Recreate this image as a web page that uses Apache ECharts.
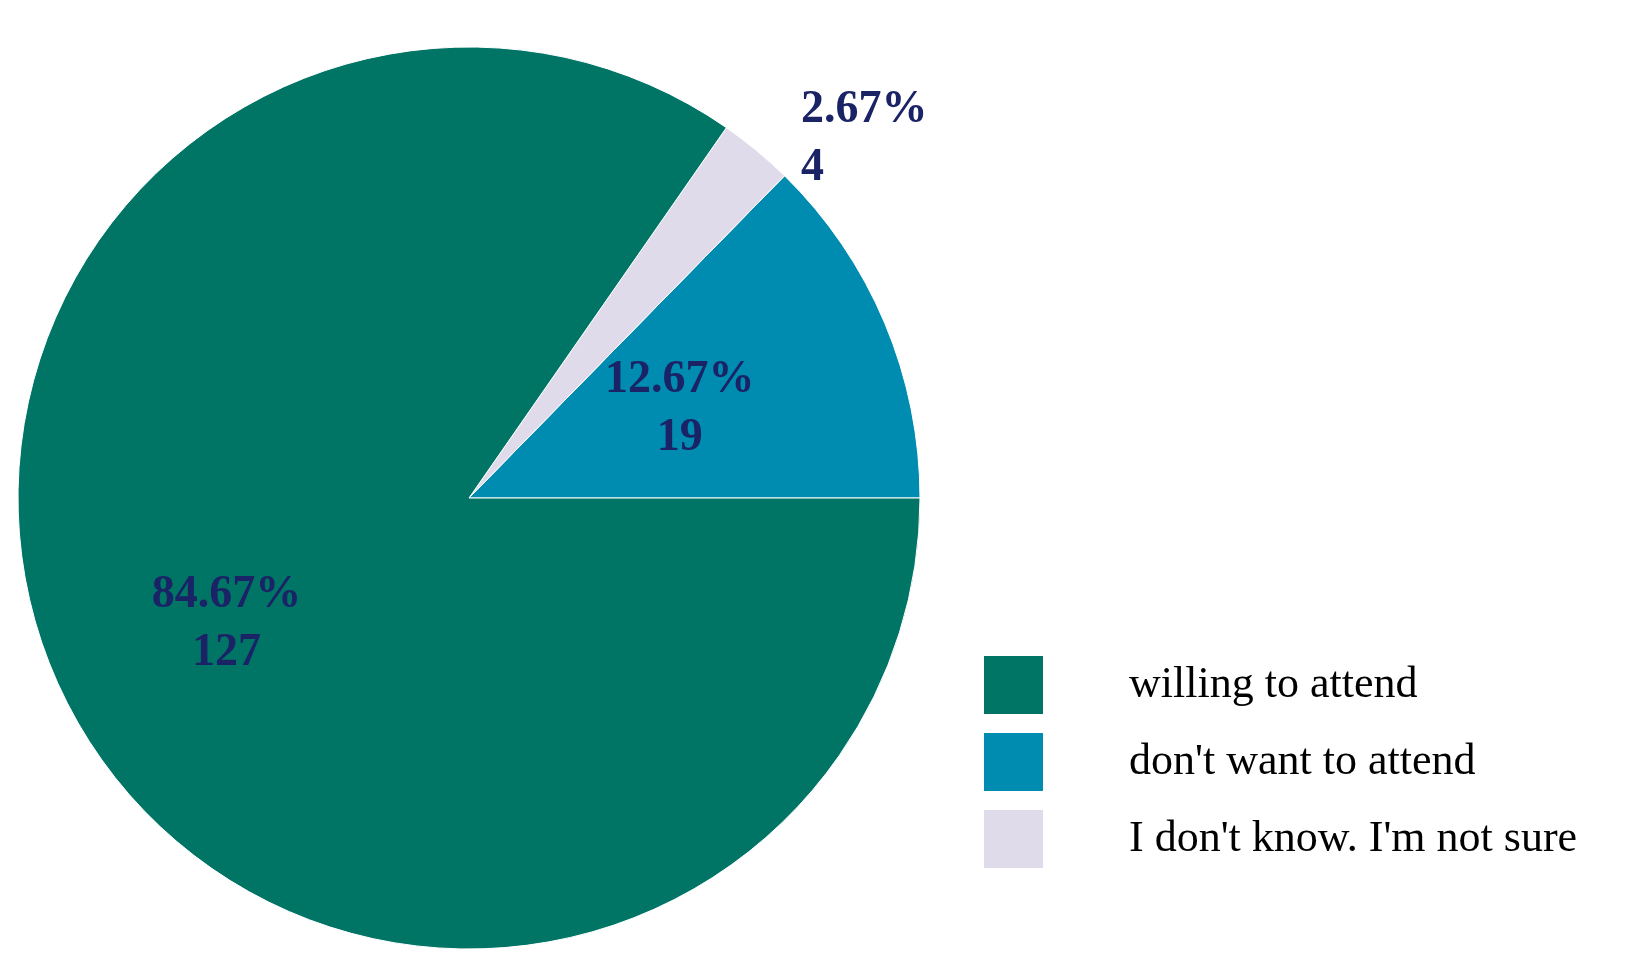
<!DOCTYPE html>
<html>
<head>
<meta charset="utf-8">
<script src="https://cdn.jsdelivr.net/npm/echarts@6/dist/echarts.min.js"></script>
<style>html,body{margin:0;background:#fff}#chart{width:1650px;height:969px}</style>
</head>
<body>
<div id="chart"></div>
<script>
// slices in drawing order, counter-clockwise from 3 o'clock
const categories = ["don't want to attend", "I don't know. I'm not sure", 'willing to attend'];
const counts = [19, 4, 127];
const colors = ['#008bb0', '#e0dbeb', '#007566'];
const legendOrder = ['willing to attend', "don't want to attend", "I don't know. I'm not sure"];

const total = counts.reduce((a, b) => a + b, 0);
const chart = echarts.init(document.getElementById('chart'));

const labelStyle = {
  formatter: p => (p.value / total * 100).toFixed(2) + '%\n' + p.value,
  fontFamily: 'Liberation Serif',
  fontWeight: 'bold',
  fontSize: 46,
  lineHeight: 58,
  color: '#1a2366'
};

chart.setOption({
  animation: false,
  legend: {
    data: legendOrder,
    orient: 'vertical',
    left: 977,
    top: 649,
    itemWidth: 61,
    itemHeight: 60,
    itemGap: 15,
    icon: 'rect',
    textStyle: { fontFamily: 'Liberation Serif', fontSize: 44, color: '#000', padding: [0, 0, 0, 80] }
  },
  series: [{
    type: 'pie',
    center: [469, 498],
    radius: 451,
    startAngle: 0,
    clockwise: false,
    itemStyle: { borderColor: '#fff', borderWidth: 1 },
    label: Object.assign({ position: 'inside' }, labelStyle),
    labelLine: { show: false },
    data: categories.map((name, i) => {
      const d = { name: name, value: counts[i], itemStyle: { color: colors[i] } };
      if (i === 1) d.label = { position: 'outside', distance: 40 };
      if (i === 2) d.label = { offset: [-40, 20] };
      return d;
    })
  }]
});
</script>
</body>
</html>
